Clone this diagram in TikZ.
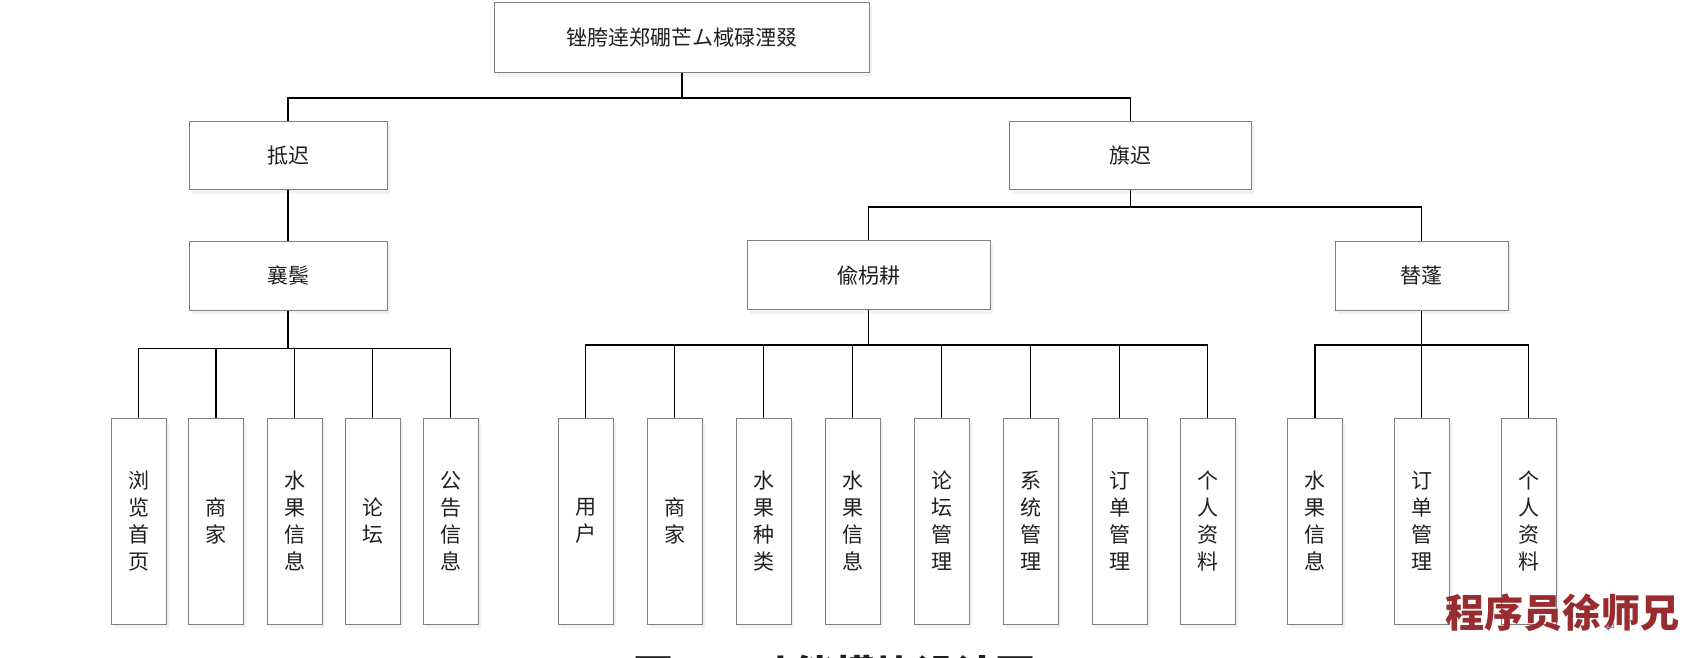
\documentclass[tikz,border=0pt]{standalone}
\usepackage{fontspec}
\usepackage{xcolor}
\usepackage{tikz}
\usetikzlibrary{positioning, shadows}
\newfontfamily\cjk{Noto Sans CJK SC}
\newfontfamily\symfont{DejaVu Sans}
\definecolor{boxgray}{RGB}{128,128,128}
\definecolor{markred}{RGB}{152,44,46}
\definecolor{retblue}{RGB}{95,170,235}

\begin{document}
\begin{tikzpicture}[x=1pt, y=-1pt,
    every node/.style={font=\cjk\fontsize{21}{27}\selectfont, text=black!88},
    box/.style={draw=boxgray, line width=0.9pt, fill=white, inner sep=0pt,
        drop shadow={shadow xshift=2.5pt, shadow yshift=-4pt, opacity=0.10}},
    leaf/.style={box, minimum width=55pt, minimum height=206pt, align=center},
    link/.style={line width=1.8pt, black}]
        \useasboundingbox (0,0) rectangle (1702,658);
        \fill[white] (0,0) rectangle (1702,658);

        % upper levels
        \node[box, minimum width=375pt, minimum height=70pt] (sys) at (681.75,37.9) {锉胯逹郑硼芒ム棫碌湮叕};
        \node[box, minimum width=198pt, minimum height=68pt] (front) at (288.3,155.8) {抵迟};
        \node[box, minimum width=242pt, minimum height=68pt] (back) at (1130.5,155.8) {旗迟};
        \node[box, minimum width=198pt, minimum height=69pt] (guest) at (288.3,275.8) {襄鬓};
        \node[box, minimum width=243pt, minimum height=69pt] (admin) at (868.5,275.3) {偸枴耕};
        \node[box, minimum width=173pt, minimum height=69pt] (shop) at (1421.5,275.8) {替蓬};

        \coordinate (topbus) at (681.75,97.7);
        \draw[link] (sys.south) -- (topbus);
        \draw[link] (topbus) -| (front.north);
        \draw[link] (topbus) -| (back.north);
        \draw[link] (front.south) -- (guest.north);

        \coordinate (backbus) at (1130.5,207.3);
        \draw[link] (back.south) -- (backbus);
        \draw[link] (backbus) -| (admin.north);
        \draw[link] (backbus) -| (shop.north);

        % leaves
        \foreach \x/\t [count=\i] in {138.5/浏\\览\\首\\页, 216/商\\家, 294.5/水\\果\\信\\息, 372.5/论\\坛, 450.5/公\\告\\信\\息} {
            \node[leaf] (g\i) at (\x,521) {\t};
        }
        \foreach \x/\t [count=\i] in {585.5/用\\户, 674.5/商\\家, 763.5/水\\果\\种\\类, 852.5/水\\果\\信\\息, 941.5/论\\坛\\管\\理, 1030.5/系\\统\\管\\理, 1119.5/订\\单\\管\\理, 1207.5/个\\人\\资\\料} {
            \node[leaf] (a\i) at (\x,521) {\t};
        }
        \foreach \x/\t [count=\i] in {1315/水\\果\\信\\息, 1421.5/订\\单\\管\\理, 1528.5/个\\人\\资\\料} {
            \node[leaf] (s\i) at (\x,521) {\t};
        }

        \coordinate (guestbus) at (288.3,348.5);
        \draw[link] (guest.south) -- (guestbus);
        \foreach \i in {1,...,5} {
            \draw[link] (guestbus) -| (g\i.north);
        }
        \coordinate (adminbus) at (868.5,345);
        \draw[link] (admin.south) -- (adminbus);
        \foreach \i in {1,...,8} {
            \draw[link] (adminbus) -| (a\i.north);
        }
        \coordinate (shopbus) at (1421.5,345);
        \draw[link] (shop.south) -- (shopbus);
        \foreach \i in {1,...,3} {
            \draw[link] (shopbus) -| (s\i.north);
        }

        % caption, cut by the page edge
        \node[font=\cjk\bfseries\fontsize{40}{40}\selectfont, anchor=base west, inner sep=0pt] (cap) at (633,689) {图 3-1 功能模块设计图};
        \node[font=\cjk\bfseries\fontsize{39}{39}\selectfont, text=markred, inner sep=0pt] (mark) at (1562,613) {程序员徐师兄};
        \node[font=\symfont\fontsize{14}{14}\selectfont, text=retblue, inner sep=0pt] (ret) at (1611,628) {↵};
    \end{tikzpicture}
\end{document}
